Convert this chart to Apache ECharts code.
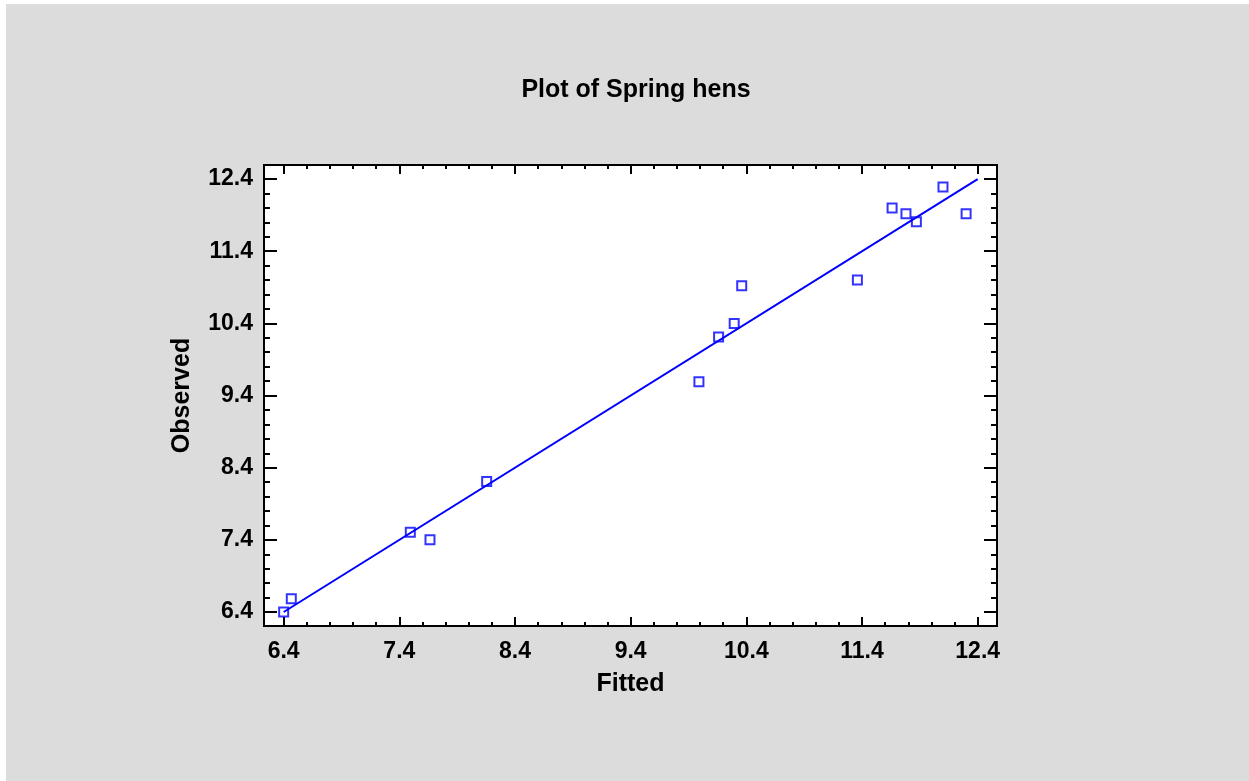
<!DOCTYPE html>
<html>
<head>
<meta charset="utf-8">
<title>Plot of Spring hens</title>
<script src="https://cdn.jsdelivr.net/npm/echarts@6/dist/echarts.min.js"></script>
<style>
  html, body { margin: 0; padding: 0; background: #ffffff; }
  #chart { width: 1249px; height: 781px; }
</style>
</head>
<body>
<div id="chart"></div>
<script>
// Fitted vs observed values
const fitted   = [6.40, 6.466, 7.495, 7.665, 8.155, 9.99, 10.16, 10.295, 10.36, 11.36, 11.66, 11.78, 11.87, 12.10, 12.30];
const observed = [6.40, 6.585, 7.505, 7.40, 8.207, 9.59, 10.21, 10.40, 10.92, 11.00, 12.00, 11.92, 11.81, 12.29, 11.92];

// Reference line (observed = fitted)
const lineFitted   = [6.4, 12.4];
const lineObserved = [6.4, 12.4];

// Tick values shared by both axes
const majorTicks = [6.4, 7.4, 8.4, 9.4, 10.4, 11.4, 12.4];
const minorTicks = [];
for (let i = 0; i <= 30; i++) minorTicks.push(+(6.4 + i * 0.2).toFixed(1));

const X_RANGE = [6.23, 12.567];
const Y_RANGE = [6.206, 12.595];

const FONT = '"Liberation Sans", Arial, sans-serif';
const BLUE = '#0000ff';

function axis(kind, position, ticks, tickLen, opts) {
  const range = kind === 'x' ? X_RANGE : Y_RANGE;
  return Object.assign({
    type: 'value',
    position: position,
    min: range[0],
    max: range[1],
    axisLine: { show: true, onZero: false, lineStyle: { color: '#000', width: 2 } },
    axisTick: { show: true, inside: true, length: tickLen, customValues: ticks,
                lineStyle: { color: '#000', width: 2 } },
    axisLabel: { show: false },
    splitLine: { show: false },
    minorTick: { show: false },
    minorSplitLine: { show: false }
  }, opts || {});
}

const labelStyle = {
  show: true,
  customValues: majorTicks,
  formatter: v => v.toFixed(1),
  color: '#000',
  fontSize: 23,
  fontWeight: 'bold',
  fontFamily: FONT
};
const nameStyle = { color: '#000', fontSize: 25, fontWeight: 'bold', fontFamily: FONT };

const chart = echarts.init(document.getElementById('chart'), null, { renderer: 'canvas' });

chart.setOption({
  backgroundColor: 'transparent',
  animation: false,
  graphic: [{
    type: 'rect', z: -10, silent: true,
    shape: { x: 6, y: 4, width: 1249 - 6, height: 781 - 4 },
    style: { fill: '#dcdcdc' }
  }],
  title: {
    text: 'Plot of Spring hens',
    left: 631,
    textAlign: 'center',
    top: 73,
    textStyle: { color: '#000', fontSize: 25, fontWeight: 'bold', fontFamily: FONT }
  },
  grid: {
    left: 264, top: 165, right: 252, bottom: 155,
    show: true, backgroundColor: '#ffffff', borderWidth: 0
  },
  xAxis: [
    axis('x', 'bottom', majorTicks, 9, {
      axisLabel: Object.assign({ margin: 14 }, labelStyle),
      name: 'Fitted', nameLocation: 'middle', nameGap: 46, nameTextStyle: nameStyle
    }),
    axis('x', 'bottom', minorTicks, 4),
    axis('x', 'top', majorTicks, 9),
    axis('x', 'top', minorTicks, 4)
  ],
  yAxis: [
    axis('y', 'left', majorTicks, 13, {
      axisLabel: Object.assign({ margin: 11 }, labelStyle),
      name: 'Observed', nameLocation: 'middle', nameGap: 69, nameTextStyle: nameStyle
    }),
    axis('y', 'left', minorTicks, 6),
    axis('y', 'right', majorTicks, 13),
    axis('y', 'right', minorTicks, 6)
  ],
  series: [
    {
      type: 'line',
      xAxisIndex: 0, yAxisIndex: 0,
      data: lineFitted.map((f, i) => [f, lineObserved[i]]),
      symbol: 'none',
      lineStyle: { color: BLUE, width: 2 },
      z: 2
    },
    {
      type: 'scatter',
      xAxisIndex: 0, yAxisIndex: 0,
      data: fitted.map((f, i) => [f, observed[i]]),
      symbol: 'rect',
      symbolSize: 9,
      itemStyle: { color: 'transparent', borderColor: BLUE, borderWidth: 2 },
      z: 3
    }
  ]
});
</script>
</body>
</html>
